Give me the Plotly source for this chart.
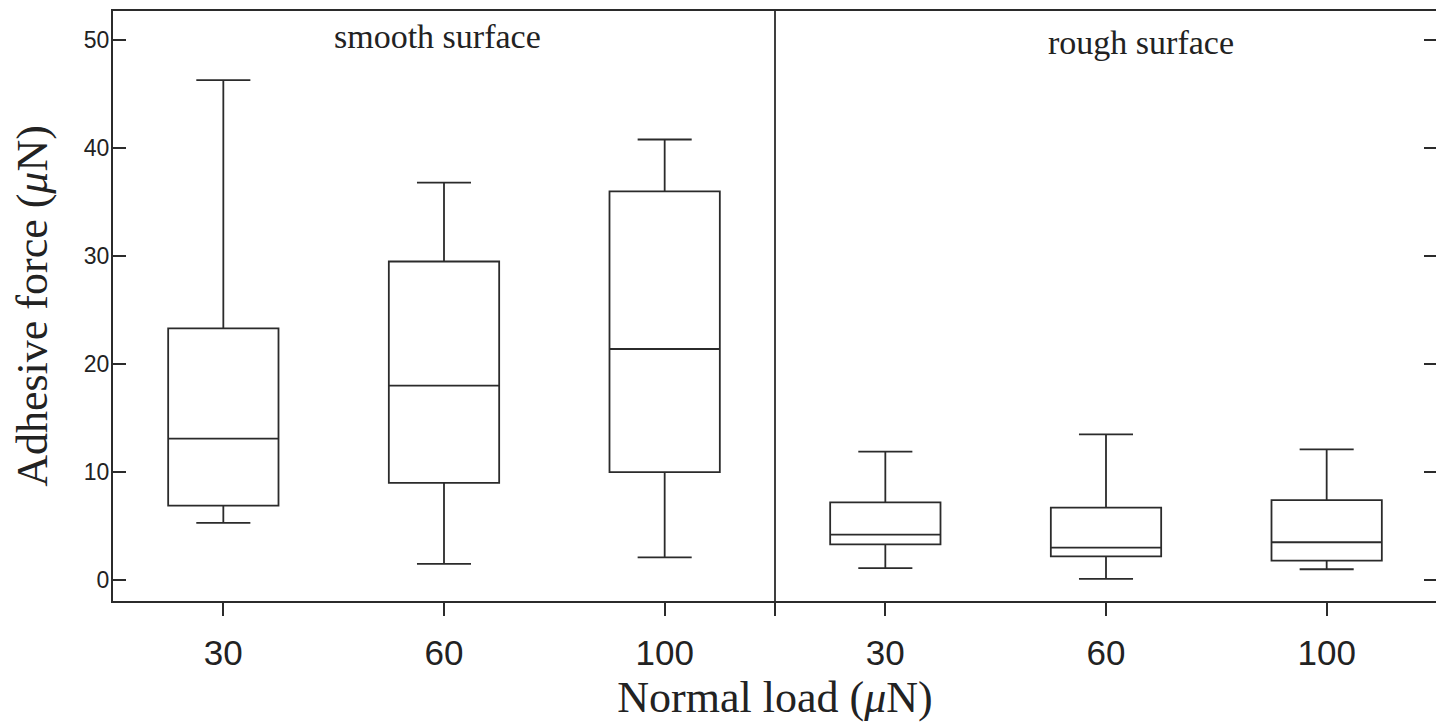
import plotly.graph_objects as go

positions = [0, 1, 2, 3, 4, 5]
tick_labels = ["30", "60", "100", "30", "60", "100"]
lower_fence = [5.3, 1.5, 2.1, 1.1, 0.1, 1.0]
q1_vals = [6.9, 9.0, 10.0, 3.3, 2.2, 1.8]
median_vals = [13.1, 18.0, 21.4, 4.2, 3.0, 3.5]
q3_vals = [23.3, 29.5, 36.0, 7.2, 6.7, 7.4]
upper_fence = [46.3, 36.8, 40.8, 11.9, 13.5, 12.1]
panel_labels = ["smooth surface", "rough surface"]
panel_label_x = [0.97, 4.16]
panel_label_y = [50.3, 49.8]

LINE = "#2b2b2b"
fig = go.Figure()
fig.add_trace(go.Box(
    x=positions, q1=q1_vals, median=median_vals, q3=q3_vals,
    lowerfence=lower_fence, upperfence=upper_fence,
    width=0.5, whiskerwidth=0.49,
    fillcolor="rgba(0,0,0,0)", line=dict(color=LINE, width=1.8),
    boxpoints=False, showlegend=False, hoverinfo="skip",
))

for t, x, y in zip(panel_labels, panel_label_x, panel_label_y):
    fig.add_annotation(x=x, y=y, text=t, showarrow=False, xref="x", yref="y",
                       font=dict(family="Liberation Serif", size=34, color="#222"))

fig.add_shape(type="line", x0=2.5, x1=2.5, y0=0, y1=1, xref="x", yref="paper",
              line=dict(color=LINE, width=1.8))

fig.update_layout(
    width=1444, height=725,
    margin=dict(l=105, r=15, t=3, b=132),
    paper_bgcolor="white", plot_bgcolor="white",
    xaxis=dict(
        range=[-0.5, 5.5], automargin=False,
        tickvals=positions + [2.5], ticktext=tick_labels + [""],
        ticks="outside", ticklen=13, tickwidth=1.8, tickcolor=LINE,
        showline=True, linecolor=LINE, linewidth=2, mirror=True,
        showgrid=False, zeroline=False,
        ticklabelstandoff=7,
        tickfont=dict(family="Liberation Sans", size=35, color="#222"),
        title=dict(text="Normal load (<i>μ</i>N)", standoff=10,
                   font=dict(family="Liberation Serif", size=44, color="#222")),
    ),
    yaxis=dict(
        range=[-1.94, 52.7], automargin=False,
        tickvals=[0, 10, 20, 30, 40, 50],
        ticks="inside", ticklen=13, tickwidth=1.8, tickcolor=LINE,
        showline=True, linecolor=LINE, linewidth=2, mirror="ticks",
        showgrid=False, zeroline=False,
        tickfont=dict(family="Liberation Sans", size=23, color="#222"),
        ticklabelstandoff=-3,
        title=dict(text="Adhesive force (<i>μ</i>N)", standoff=23,
                   font=dict(family="Liberation Serif", size=44, color="#222")),
    ),
)

fig.write_html("out.html")
